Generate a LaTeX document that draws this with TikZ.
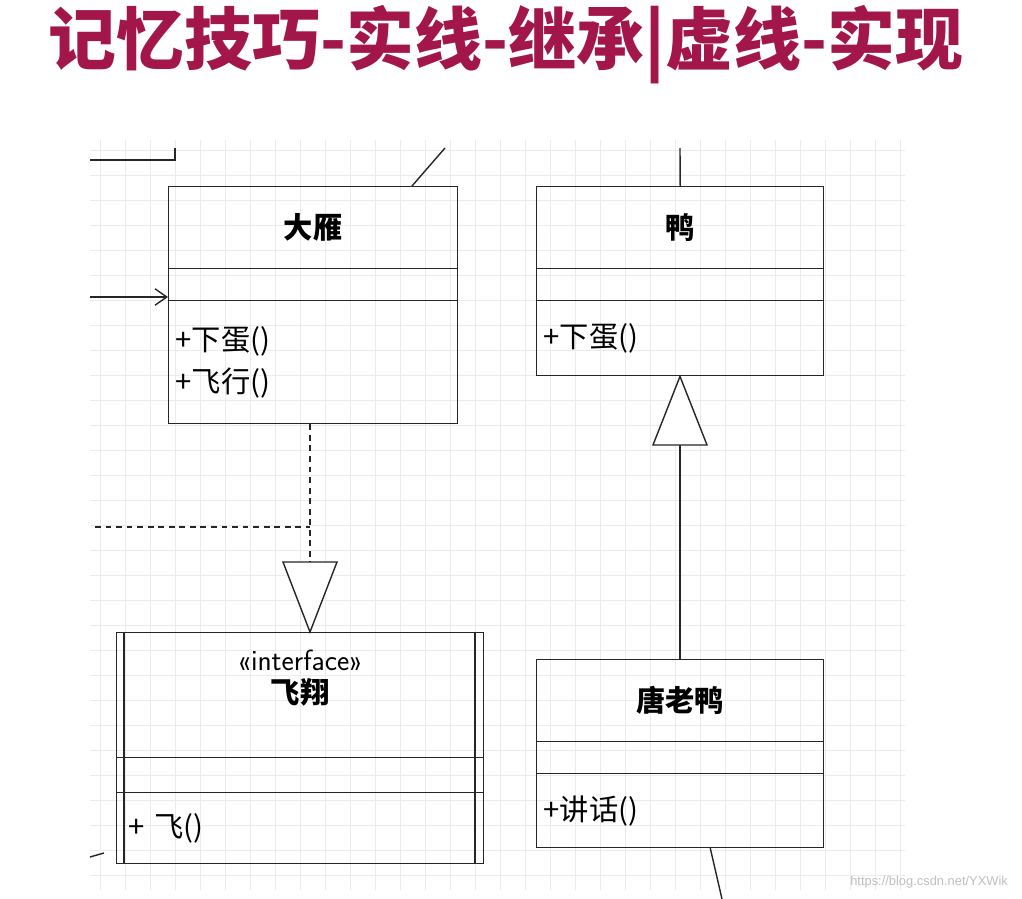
\documentclass[tikz,border=0pt]{standalone}
\usepackage{fontspec}
\setmainfont{Liberation Sans}
\newfontfamily\cjk{Noto Sans CJK SC}
\usetikzlibrary{positioning,arrows.meta,calc}
\definecolor{titlered}{HTML}{A3164A}
\def\pu{0.03cm}
\begin{document}
\begin{tikzpicture}
[
x=\pu, y=-\pu,
namebox/.style={draw=black!85, line width=1.2pt, anchor=north west, inner sep=0pt, font=\cjk\fontsize{25}{28}\selectfont\bfseries},
attrbox/.style={draw=black!85, line width=1.2pt, anchor=north west, inner sep=0pt},
opbox/.style={draw=black!85, line width=1.2pt, anchor=north west, inner sep=6pt, align=left, font=\cjk\fontsize{25}{36}\selectfont},
link/.style={draw=black!85, line width=1.2pt},
]
\useasboundingbox (0,0) rectangle (1022,899);
\fill[white] (0,0) rectangle (1022,899);
%Grid
\foreach \gx in {100,125,...,900} \draw[black!8] (\gx,140) -- (\gx,890);
\foreach \gy in {150,175,...,890} \draw[black!8] (90,\gy) -- (905,\gy);

%Title
\node (title) at (506,45) {\cjk\fontsize{58}{62}\selectfont\bfseries\color{titlered}记忆技巧-实线-继承|虚线-实现};

%Nodes
\node[namebox, minimum width=289*\pu, minimum height=82*\pu] (dayan) at (168,186) {大雁};
\node[attrbox, minimum width=289*\pu, minimum height=32*\pu] (dayanattr) at (168,268) {};
\node[opbox, text width=275*\pu, minimum height=123*\pu] (dayanop) at (168,300) {+下蛋()\\+飞行()};

\node[namebox, minimum width=287*\pu, minimum height=82*\pu] (ya) at (536,186) {鸭};
\node[attrbox, minimum width=287*\pu, minimum height=32*\pu] (yaattr) at (536,268) {};
\node[opbox, text width=273*\pu, minimum height=75*\pu] (yaop) at (536,300) {+下蛋()};

\node[namebox, minimum width=367*\pu, minimum height=125*\pu, align=center] (feixiang) at (116,632)
  {\fontsize{25}{34}\selectfont\mdseries\sffamily «interface»\\\textit{飞翔}\\[4pt]};
\node[attrbox, minimum width=367*\pu, minimum height=35*\pu] (feixiangattr) at (116,757) {};
\node[opbox, text width=353*\pu, minimum height=71*\pu] (feixiangop) at (116,792) {\hspace{4pt}+ \textit{飞()}};
\draw[link] (124,632) -- (124,863) (475,632) -- (475,863);

\node[namebox, minimum width=287*\pu, minimum height=82*\pu] (tly) at (536,659) {唐老鸭};
\node[attrbox, minimum width=287*\pu, minimum height=32*\pu] (tlyattr) at (536,741) {};
\node[opbox, text width=273*\pu, minimum height=74*\pu] (tlyop) at (536,773) {+讲话()};

\coordinate (tri1) at (310,562);
\coordinate (tri2) at (680,445);
\coordinate (leftin) at (90,297);
\coordinate (dash) at (95,527);
\coordinate (topdiag) at (445,148);
\coordinate (topya) at (680,148);
\coordinate (botdiag) at (722,899);

%Lines
\draw[link, dash pattern=on 5pt off 4pt] (dayanop.south -| tri1) -- (tri1);
\draw[link, dash pattern=on 5pt off 4pt] (dash) -- (dash -| tri1);
\draw[link, fill=white] ($(tri1)+(-27,0)$) -- (feixiang.north -| tri1) -- ($(tri1)+(27,0)$) -- cycle;
\draw[link] (tly.north -| tri2) -- (tri2);
\draw[link, fill=white] ($(tri2)+(-27,0)$) -- (yaop.south -| tri2) -- ($(tri2)+(27,0)$) -- cycle;
\draw[link, -{Straight Barb[length=10pt,width=14pt]}] (leftin) -- (leftin -| dayanop.west);
\draw[link] (412,186) -- (topdiag);
\draw[link] (topya) -- (ya.north);
\draw[link] (710,847) -- (botdiag);
\draw[link] (90,160) -- (175,160) -- (175,148);
\draw[link] (90,857) -- (104,853);

\node[anchor=east, text=black!25, font=\fontsize{11}{13}\selectfont] (mark) at (1012,882) {https://blog.csdn.net/YXWik};
\end{tikzpicture}
\end{document}
